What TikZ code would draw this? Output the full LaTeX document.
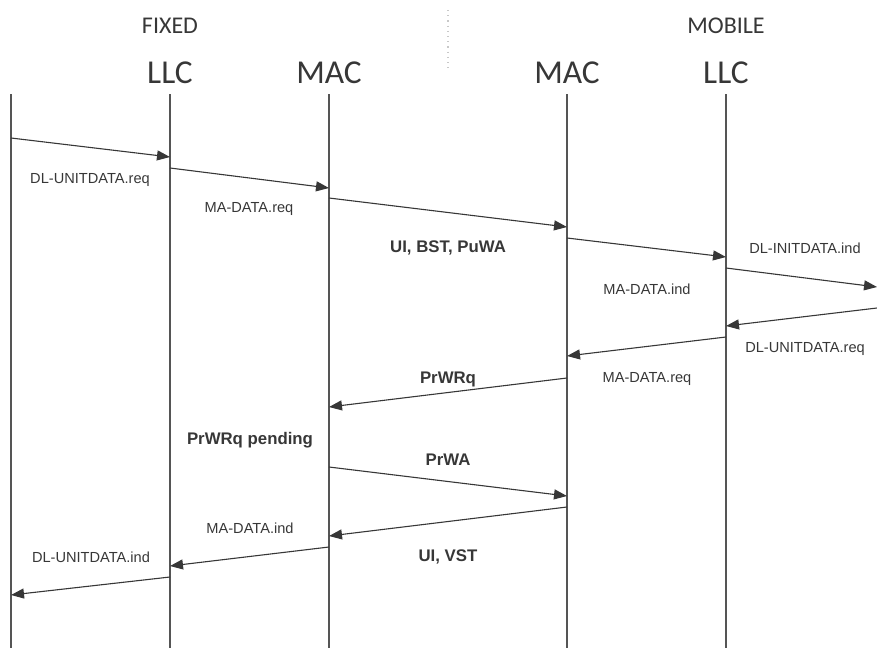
\documentclass[tikz,border=0pt]{standalone}
\usepackage{fontspec}
\setmainfont{Liberation Sans}
\newfontfamily\headfont{Carlito}
\usetikzlibrary{arrows.meta}

\begin{document}
\begin{tikzpicture}[x=0.5pt,y=-0.5pt]
    \definecolor{mylife}{RGB}{85,85,85}
    \definecolor{myline}{RGB}{55,55,55}
    \definecolor{mytext}{RGB}{55,55,55}
    \definecolor{mydot}{RGB}{200,200,200}

    \tikzstyle{head}=[font=\headfont\fontsize{16.7pt}{18pt}\selectfont,text=mytext,inner sep=0pt,anchor=base]  % 层名
    \tikzstyle{side}=[font=\headfont\fontsize{12pt}{14pt}\selectfont,text=mytext,inner sep=0pt,anchor=base]  % 固定/移动
    \tikzstyle{life}=[draw=mylife,line width=0.8pt]  % 生命线
    \tikzstyle{msg}=[draw=myline,line width=0.55pt,-{Triangle[length=6.5pt,width=5pt]}]  % 消息箭头
    \tikzstyle{lab}=[font=\fontsize{7.3pt}{8pt}\selectfont,text=mytext,inner sep=0pt]  % 原语标签
    \tikzstyle{blab}=[font=\fontsize{8.4pt}{9pt}\selectfont\bfseries,text=mytext,inner sep=0pt]  % 帧标签

    \useasboundingbox (0,0) rectangle (877,648);

    % 标题
    \node[side](fixed) at (170,33){FIXED};
    \node[side](mobile) at (726,33){MOBILE};
    \node[head](fllc) at (170,83){LLC};
    \node[head](fmac) at (329,83){MAC};
    \node[head](mmac) at (567,83){MAC};
    \node[head](mllc) at (726,83){LLC};
    \coordinate (sept) at (448,10);
    \coordinate (sepb) at (448,72);
    \draw[mydot,dotted,line width=0.6pt](sept)--(sepb);

    % 生命线
    \coordinate (u0) at (11,94);   \coordinate (u1) at (11,648);
    \coordinate (a0) at (170,94);  \coordinate (a1) at (170,648);
    \coordinate (b0) at (329,94);  \coordinate (b1) at (329,648);
    \coordinate (c0) at (567,94);  \coordinate (c1) at (567,648);
    \coordinate (d0) at (726,94);  \coordinate (d1) at (726,648);
    \draw[life](u0)--(u1);
    \draw[life](a0)--(a1);
    \draw[life](b0)--(b1);
    \draw[life](c0)--(c1);
    \draw[life](d0)--(d1);

    % 消息端点
    \coordinate (m1s) at (11,138);   \coordinate (m1e) at (170,157);
    \coordinate (m2s) at (170,168);  \coordinate (m2e) at (329,188);
    \coordinate (m3s) at (329,198);  \coordinate (m3e) at (567,227);
    \coordinate (m4s) at (567,238);  \coordinate (m4e) at (726,257);
    \coordinate (m5s) at (726,268);  \coordinate (m5e) at (877,287);
    \coordinate (m6s) at (877,308);  \coordinate (m6e) at (726,326);
    \coordinate (m7s) at (726,337);  \coordinate (m7e) at (567,356);
    \coordinate (m8s) at (567,378);  \coordinate (m8e) at (329,407);
    \coordinate (m9s) at (329,467);  \coordinate (m9e) at (567,496);
    \coordinate (m10s) at (567,507); \coordinate (m10e) at (329,536);
    \coordinate (m11s) at (329,547); \coordinate (m11e) at (170,566);
    \coordinate (m12s) at (170,577); \coordinate (m12e) at (11,595);

    % 开始画线
    \draw[msg](m1s)--(m1e);
    \draw[msg](m2s)--(m2e);
    \draw[msg](m3s)--(m3e);
    \draw[msg](m4s)--(m4e);
    \draw[msg](m5s)--(m5e);
    \draw[msg](m6s)--(m6e);
    \draw[msg](m7s)--(m7e);
    \draw[msg](m8s)--(m8e);
    \draw[msg](m9s)--(m9e);
    \draw[msg](m10s)--(m10e);
    \draw[msg](m11s)--(m11e);
    \draw[msg](m12s)--(m12e);

    % 标签
    \node[lab](l1) at (90,180){DL-UNITDATA.req};
    \node[lab](l2) at (249,209){MA-DATA.req};
    \node[blab](l3) at (448,248){UI, BST, PuWA};
    \node[lab](l4) at (805,248){DL-INITDATA.ind};
    \node[lab](l5) at (647,289){MA-DATA.ind};
    \node[lab](l6) at (805,349){DL-UNITDATA.req};
    \node[lab](l7) at (647,379){MA-DATA.req};
    \node[blab](l8) at (448,379){PrWRq};
    \node[blab](l9) at (250,440){PrWRq pending};
    \node[blab](l10) at (448,460){PrWA};
    \node[lab](l11) at (250,528){MA-DATA.ind};
    \node[blab](l12) at (448,557){UI, VST};
    \node[lab](l13) at (91,557){DL-UNITDATA.ind};
\end{tikzpicture}
\end{document}
